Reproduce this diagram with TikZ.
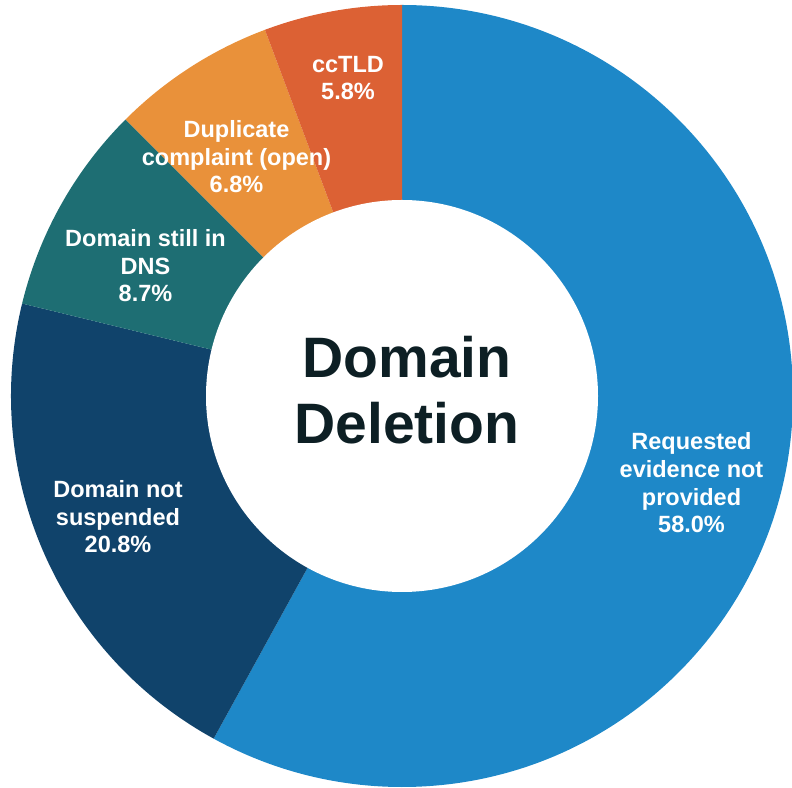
\documentclass[tikz,border=0pt]{standalone}
\usepackage{fontspec}
\setmainfont{Liberation Sans}
\usetikzlibrary{calc}
\definecolor{cBlue}{RGB}{30,136,200}
\definecolor{cNavy}{RGB}{16,67,107}
\definecolor{cTeal}{RGB}{30,110,115}
\definecolor{cOrange}{RGB}{233,145,58}
\definecolor{cRed}{RGB}{220,97,52}
\definecolor{cInk}{RGB}{13,31,36}
\tikzset{
  slicelabel/.style={text=white, align=center, inner sep=0pt,
    font=\fontsize{23.5}{27.6}\selectfont\bfseries},
  title/.style={text=cInk, align=center, inner sep=0pt,
    font=\fontsize{57}{66}\selectfont\bfseries},
}
% slice: #1 colour, #2 start angle, #3 end angle (clockwise)
\newcommand{\donutslice}[3]{%
  \fill[#1] (C) -- ++(#2:391) arc[start angle=#2, end angle=#3, radius=391] -- cycle;}
\begin{document}
\begin{tikzpicture}[x=1pt,y=1pt]
\useasboundingbox (0,0) rectangle (792,787);
\coordinate (C) at (402,391);
\donutslice{cBlue}{90}{-118.8}
\donutslice{cNavy}{-118.8}{-193.68}
\donutslice{cTeal}{-193.68}{-225}
\donutslice{cOrange}{-225}{-249.48}
\donutslice{cRed}{-249.48}{-270}
\node[circle, fill=white, minimum size=392pt, inner sep=0pt] (hub) at (C) {};
\node[title] (centre) at (407,397) {Domain\\Deletion};
\node[slicelabel] (evidence) at (691.5,304) {Requested\\evidence not\\provided\\58.0\%};
\node[slicelabel] (suspended) at (118,270) {Domain not\\suspended\\20.8\%};
\node[slicelabel] (dns) at (145.5,521) {Domain still in\\DNS\\8.7\%};
\node[slicelabel] (duplicate) at (236.5,630) {Duplicate\\complaint (open)\\6.8\%};
\node[slicelabel] (cctld) at (348,709) {ccTLD\\5.8\%};
\end{tikzpicture}
\end{document}
